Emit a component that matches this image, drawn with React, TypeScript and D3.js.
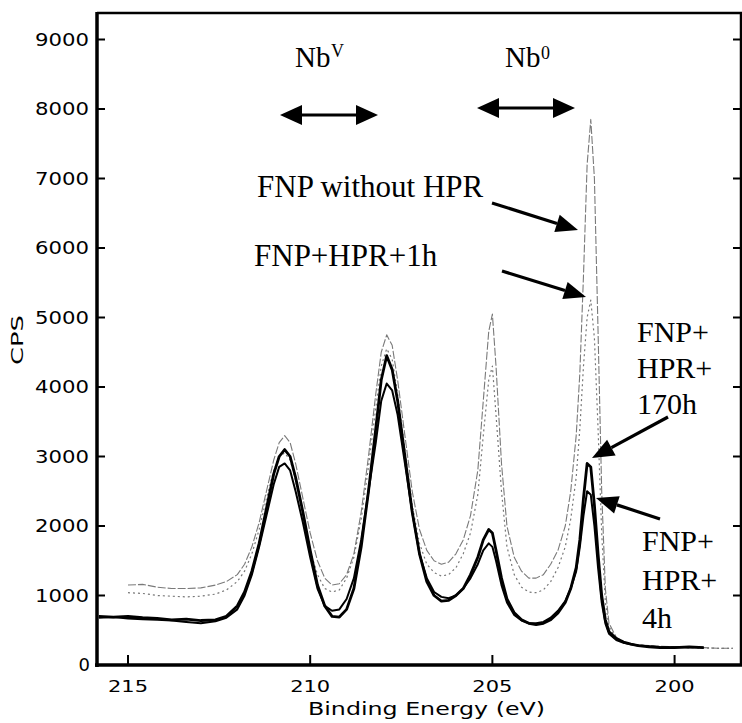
import React from "react";
import * as d3 from "d3";

// Binding energy grid (eV), descending
const BE = [
  215.8, 215.4, 215.0, 214.6, 214.2, 213.8, 213.4, 213.0, 212.6, 212.3,
  212.0, 211.8, 211.6, 211.4, 211.2, 211.0, 210.85, 210.7, 210.55, 210.4,
  210.2, 210.0, 209.8, 209.6, 209.4, 209.2, 209.0, 208.8, 208.6, 208.4,
  208.2, 208.05, 207.9, 207.75, 207.6, 207.4, 207.2, 207.0, 206.8, 206.6,
  206.4, 206.2, 206.0, 205.8, 205.6, 205.4, 205.25, 205.1, 205.0, 204.9,
  204.75, 204.6, 204.4, 204.2, 204.0, 203.8, 203.6, 203.4, 203.2, 203.0,
  202.85, 202.7, 202.6, 202.5, 202.4, 202.3, 202.2, 202.1, 202.0, 201.9,
  201.8, 201.6, 201.4, 201.2, 201.0, 200.7, 200.4, 200.0, 199.6, 199.2,
  198.8, 198.4,
];

// FNP without HPR (thin grey)
const cpsNoHPR: (number | null)[] = [
  null, null, 1150, 1160, 1120, 1100, 1100, 1110, 1150, 1200,
  1300, 1450, 1700, 2050, 2500, 2950, 3200, 3300, 3200, 2900,
  2400, 1900, 1500, 1250, 1150, 1170, 1300, 1600, 2200, 3000,
  3900, 4500, 4750, 4600, 4100, 3300, 2500, 1950, 1650, 1500,
  1450, 1480, 1600, 1800, 2150, 2800, 3800, 4800, 5050, 4300,
  2900, 2000, 1550, 1350, 1250, 1250, 1300, 1450, 1650, 2000,
  2500, 3300, 4200, 5600, 7200, 7850, 7000, 4800, 2500, 1100,
  600, 400, 330, 300, 290, 280, 270, 260, 250, 250,
  240, 240,
];

// FNP+HPR+1h (dotted)
const cps1h: (number | null)[] = [
  null, null, 1040, 1030, 1000, 990, 980, 990, 1020, 1080,
  1200, 1350, 1600, 1950, 2400, 2800, 3000, 3050, 2950, 2650,
  2150, 1650, 1300, 1100, 1050, 1080, 1250, 1550, 2100, 2850,
  3700, 4300, 4550, 4400, 3900, 3100, 2300, 1750, 1450, 1330,
  1280, 1300, 1400, 1600, 1900, 2450, 3300, 4100, 4300, 3600,
  2500, 1700, 1300, 1120, 1050, 1040, 1080, 1200, 1400, 1700,
  2100, 2700, 3400, 4300, 5000, 5250, 4700, 3400, 1900, 900,
  550, 380, 320, 300, 285, 275, 265, 255, 250, 245,
  240, 240,
];

// FNP+HPR+170h (thick black)
const cps170h: (number | null)[] = [
  700, 690, 700, 680, 670, 650, 660, 640, 650, 700,
  850, 1050, 1350, 1750, 2250, 2750, 3000, 3100, 3000, 2700,
  2200, 1650, 1150, 850, 700, 690, 800, 1100, 1700, 2500,
  3400, 4100, 4450, 4250, 3800, 3000, 2200, 1600, 1200, 1000,
  920, 930, 1000, 1100, 1300, 1550, 1800, 1950, 1900, 1650,
  1250, 950, 750, 650, 600, 580, 600, 650, 750, 900,
  1100, 1400, 1800, 2400, 2900, 2850, 2300, 1600, 1000, 650,
  480, 380, 330, 300, 280, 260, 250, 250, 260, 250,
  null, null,
];

// FNP+HPR+4h (black)
const cps4h: (number | null)[] = [
  680, 690, 670, 660, 650, 640, 620, 600, 630, 680,
  800, 1000, 1300, 1700, 2150, 2600, 2850, 2900, 2800, 2500,
  2050, 1550, 1100, 850, 780, 800, 950, 1250, 1800, 2500,
  3200, 3800, 4050, 3950, 3600, 2900, 2200, 1600, 1250, 1050,
  980, 960, 1000, 1100, 1250, 1450, 1650, 1750, 1700, 1500,
  1150, 900, 720, 640, 600, 600, 620, 680, 780, 920,
  1100, 1350, 1700, 2150, 2500, 2450, 2000, 1400, 900, 600,
  450, 360, 320, 300, 280, 270, 260, 255, 260, 250,
  null, null,
];

const yTicks = [0, 1000, 2000, 3000, 4000, 5000, 6000, 7000, 8000, 9000];
const xTicks = [215, 210, 205, 200];

const W = 742;
const H = 723;
const L = 97;
const R = 741;
const T = 13;
const B = 665;

const x = d3.scaleLinear().domain([215.85, 198.15]).range([L, 742]);
const y = d3.scaleLinear().domain([0, 9000]).range([B, 39.5]);

function makePath(vals: (number | null)[]) {
  const pts: [number, number][] = [];
  vals.forEach((v, i) => {
    if (v != null) pts.push([BE[i], v]);
  });
  return (
    d3
      .line<[number, number]>()
      .x((d) => x(d[0]))
      .y((d) => y(d[1]))(pts) || ""
  );
}

function head(x1: number, y1: number, x2: number, y2: number, len = 22, half = 9) {
  const dx = x2 - x1;
  const dy = y2 - y1;
  const d = Math.hypot(dx, dy);
  const ux = dx / d;
  const uy = dy / d;
  const bx = x2 - ux * len;
  const by = y2 - uy * len;
  const nx = -uy;
  const ny = ux;
  return {
    pts: `${x2},${y2} ${bx + nx * half},${by + ny * half} ${bx - nx * half},${by - ny * half}`,
    bx,
    by,
  };
}

function Arrow({ x1, y1, x2, y2 }: { x1: number; y1: number; x2: number; y2: number }) {
  const h = head(x1, y1, x2, y2);
  return (
    <g>
      <line x1={x1} y1={y1} x2={h.bx} y2={h.by} stroke="#000" strokeWidth={3.2} />
      <polygon points={h.pts} fill="#000" />
    </g>
  );
}

function DoubleArrow({ x1, x2, yy }: { x1: number; x2: number; yy: number }) {
  const h1 = head(x1, yy, x2, yy, 22, 10);
  const h2 = head(x2, yy, x1, yy, 22, 10);
  return (
    <g>
      <line x1={h2.bx} y1={yy} x2={h1.bx} y2={yy} stroke="#000" strokeWidth={3.2} />
      <polygon points={h1.pts} fill="#000" />
      <polygon points={h2.pts} fill="#000" />
    </g>
  );
}

const serif = "'Liberation Serif', 'Times New Roman', serif";
const sans = "'DejaVu Sans', sans-serif";

export default function App() {
  return (
    <svg
      width={W}
      height={H}
      style={{ position: "absolute", left: 0, top: 0, background: "#fff" }}
      xmlns="http://www.w3.org/2000/svg"
    >
      <rect x={0} y={0} width={W} height={H} fill="#fff" />
      <defs>
        <clipPath id="plot">
          <rect x={L} y={T} width={R - L} height={B - T} />
        </clipPath>
      </defs>

      {/* series */}
      <g clipPath="url(#plot)" fill="none" strokeLinejoin="round">
        <path d={makePath(cpsNoHPR)} stroke="#7a7a7a" strokeWidth={1.1} strokeDasharray="8 2" />
        <path d={makePath(cps1h)} stroke="#777" strokeWidth={1.2} strokeDasharray="2 3" />
        <path d={makePath(cps4h)} stroke="#000" strokeWidth={2} />
        <path d={makePath(cps170h)} stroke="#000" strokeWidth={2.8} />
      </g>

      {/* frame */}
      <line x1={L} y1={T} x2={R + 1} y2={T} stroke="#000" strokeWidth={2.5} />
      <line x1={L} y1={T - 1} x2={L} y2={B + 2} stroke="#000" strokeWidth={3.5} />
      <line x1={R} y1={T} x2={R} y2={B} stroke="#000" strokeWidth={2.5} />
      <line x1={L - 2} y1={B} x2={W} y2={B} stroke="#000" strokeWidth={3.5} />

      {/* y ticks */}
      {yTicks.map((t) => (
        <g key={"y" + t}>
          {t > 0 && <line x1={L} x2={L + 8} y1={y(t)} y2={y(t)} stroke="#000" strokeWidth={2} />}
          {t > 0 && <line x1={R} x2={R - 8} y1={y(t)} y2={y(t)} stroke="#000" strokeWidth={2} />}
          <text
            x={t === 0 ? 90 : 89}
            y={y(t) + 6}
            textAnchor="end"
            fontFamily={sans}
            fontSize={18}
            {...(t === 0 ? {} : { textLength: 54, lengthAdjust: "spacingAndGlyphs" })}
          >
            {t}
          </text>
        </g>
      ))}

      {/* x ticks */}
      {xTicks.map((t) => (
        <g key={"x" + t}>
          <line x1={x(t)} x2={x(t)} y1={B} y2={B - 10} stroke="#000" strokeWidth={2} />
          <text
            x={x(t)}
            y={692}
            textAnchor="middle"
            fontFamily={sans}
            fontSize={16}
            textLength={40}
            lengthAdjust="spacingAndGlyphs"
          >
            {t}
          </text>
        </g>
      ))}

      {/* axis titles */}
      <text
        x={308}
        y={715}
        fontFamily={sans}
        fontSize={18}
        textLength={237}
        lengthAdjust="spacingAndGlyphs"
      >
        Binding Energy (eV)
      </text>
      <text
        transform="translate(23,340) rotate(-90)"
        textAnchor="middle"
        fontFamily={sans}
        fontSize={15}
        textLength={50}
        lengthAdjust="spacingAndGlyphs"
      >
        CPS
      </text>

      {/* Nb labels */}
      <text x={295} y={67} fontFamily={serif} fontSize={29}>Nb</text>
      <text x={331} y={57} fontFamily={serif} fontSize={18}>V</text>
      <text x={505} y={67} fontFamily={serif} fontSize={29}>Nb</text>
      <text x={541} y={59} fontFamily={serif} fontSize={18}>0</text>
      <DoubleArrow x1={280} x2={378} yy={115} />
      <DoubleArrow x1={477} x2={575} yy={108} />

      {/* series annotations */}
      <text x={257} y={197} fontFamily={serif} fontSize={31}>FNP without HPR</text>
      <Arrow x1={492} y1={203} x2={578} y2={230} />
      <text x={254} y={266} fontFamily={serif} fontSize={31}>FNP+HPR+1h</text>
      <Arrow x1={502} y1={271} x2={586} y2={297} />

      <text fontFamily={serif} fontSize={30}>
        <tspan x={637} y={342}>FNP+</tspan>
        <tspan x={637} y={378}>HPR+</tspan>
        <tspan x={637} y={414}>170h</tspan>
      </text>
      <Arrow x1={668} y1={417} x2={592} y2={458} />

      <text fontFamily={serif} fontSize={30}>
        <tspan x={642} y={551}>FNP+</tspan>
        <tspan x={642} y={590}>HPR+</tspan>
        <tspan x={642} y={628}>4h</tspan>
      </text>
      <Arrow x1={660} y1={519} x2={596} y2={498} />
    </svg>
  );
}
